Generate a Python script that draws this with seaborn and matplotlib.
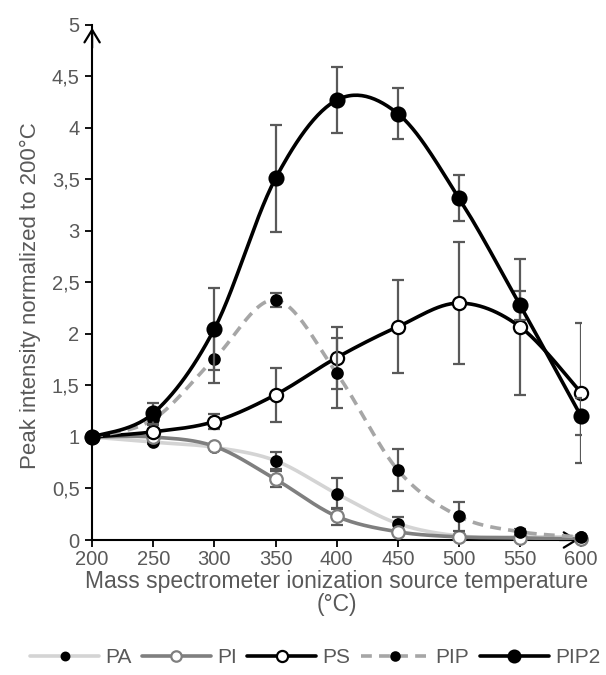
import numpy as np
import pandas as pd
import matplotlib
matplotlib.use("Agg")
import matplotlib.pyplot as plt
from matplotlib.lines import Line2D
import seaborn as sns

# values (mean and +/- error per temperature)
temps = [200, 250, 300, 350, 400, 450, 500, 550, 600]

pa = [1.00, 0.95, 0.90, 0.77, 0.45, 0.16, 0.04, 0.03, 0.03]
pa_err = [0, 0.02, 0.02, 0.08, 0.15, 0.06, 0.01, 0.01, 0.01]
pi = [1.00, 1.00, 0.91, 0.59, 0.23, 0.08, 0.03, 0.02, 0.01]
pi_err = [0, 0.02, 0.02, 0.08, 0.08, 0.02, 0.01, 0.01, 0.01]
ps = [1.00, 1.05, 1.15, 1.41, 1.77, 2.07, 2.30, 2.07, 1.43]
ps_err = [0, 0.03, 0.07, 0.26, 0.30, 0.45, 0.59, 0.66, 0.68]
pip = [1.00, 1.17, 1.76, 2.33, 1.62, 0.68, 0.23, 0.08, 0.03]
pip_err = [0, 0.05, 0.24, 0.07, 0.34, 0.20, 0.14, 0.03, 0.02]
pip2 = [1.00, 1.23, 2.05, 3.51, 4.27, 4.14, 3.32, 2.28, 1.20]
pip2_err = [0, 0.10, 0.40, 0.52, 0.32, 0.25, 0.22, 0.14, 0.18]

names = ["PA", "PI", "PS", "PIP", "PIP2"]
yticks = [0, 0.5, 1, 1.5, 2, 2.5, 3, 3.5, 4, 4.5, 5]
ytick_labels = ["0", "0,5", "1", "1,5", "2", "2,5", "3", "3,5", "4", "4,5", "5"]

series = {"PA": (pa, pa_err), "PI": (pi, pi_err), "PS": (ps, ps_err),
          "PIP": (pip, pip_err), "PIP2": (pip2, pip2_err)}

# line color, linestyle, marker face, marker edge, marker size, legend marker size
styles = {
    "PA": ("#d4d4d4", "-", "black", "black", 7.5, 5.5),
    "PI": ("#7f7f7f", "-", "white", "#7f7f7f", 9, 7.5),
    "PS": ("black", "-", "white", "black", 9.5, 8),
    "PIP": ("#a6a6a6", (0, (3, 2)), "black", "black", 7.5, 6),
    "PIP2": ("black", "-", "black", "black", 10, 8.5),
}


def smooth(x, y, n=30):
    # Excel-like smoothed line (Catmull-Rom through the points)
    x = np.asarray(x, float)
    y = np.asarray(y, float)
    px = np.concatenate([[x[0]], x, [x[-1]]])
    py = np.concatenate([[y[0]], y, [y[-1]]])
    xs, ys = [], []
    t = np.linspace(0, 1, n)
    for i in range(1, len(px) - 2):
        for arr, out in ((px, xs), (py, ys)):
            p0, p1, p2, p3 = arr[i - 1], arr[i], arr[i + 1], arr[i + 2]
            c1 = p1 + (p2 - p0) / 6
            c2 = p2 - (p3 - p1) / 6
            out.extend((1 - t) ** 3 * p1 + 3 * (1 - t) ** 2 * t * c1
                       + 3 * (1 - t) * t ** 2 * c2 + t ** 3 * p2)
    return np.array(xs), np.array(ys)


sns.set_style("white")
plt.rcParams["font.family"] = ["Liberation Sans", "DejaVu Sans"]
text_col = "#595959"

fig = plt.figure(figsize=(6.06, 6.75), dpi=100)
ax = fig.add_axes([0.152, 0.2, 0.807, 0.763])

z = 3
for name in names:
    vals, errs = series[name]
    col, ls, fc, ec, ms, lms = styles[name]
    ax.errorbar(temps, vals, yerr=errs, fmt="none", ecolor="#595959",
                elinewidth=1.6, capsize=4, capthick=1.6, zorder=z)
    sx, sy = smooth(temps, vals)
    sns.lineplot(x=sx, y=sy, ax=ax, color=col, linestyle=ls, lw=2.6,
                 sort=False, estimator=None, zorder=z + 1)
    sns.scatterplot(x=temps, y=vals, ax=ax, color=fc, edgecolor=ec, s=ms ** 2,
                    linewidth=1.6, zorder=z + 2, clip_on=False)
    z += 3

ax.set_xlim(200, 600)
ax.set_ylim(0, 5)
ax.set_xticks(temps)
ax.set_yticks(yticks)
ax.set_yticklabels(ytick_labels)
ax.tick_params(axis="both", colors="black", labelcolor=text_col, labelsize=14.5,
               length=5, width=1.3, direction="out", left=True, bottom=True)
ax.tick_params(axis="x", pad=2)
ax.tick_params(axis="y", pad=4)
for s in ["top", "right"]:
    ax.spines[s].set_visible(False)
for s in ["left", "bottom"]:
    ax.spines[s].set_color("black")
    ax.spines[s].set_linewidth(1.5)

arrow = dict(arrowstyle="->,head_length=0.9,head_width=0.55", color="black", lw=1.6)
ax.annotate("", xy=(0, 1.0), xytext=(0, 0.95), xycoords="axes fraction", arrowprops=arrow)
ax.annotate("", xy=(1.0, 0), xytext=(0.95, 0), xycoords="axes fraction", arrowprops=arrow)

ax.set_xlabel("Mass spectrometer ionization source temperature\n(°C)",
              fontsize=16.5, color=text_col, labelpad=1, linespacing=1.0)
ax.set_ylabel("Peak intensity normalized to 200°C", fontsize=16, color=text_col)
ax.yaxis.set_label_coords(-0.105, 0.474)

handles = []
for name in names:
    col, ls, fc, ec, ms, lms = styles[name]
    handles.append(Line2D([], [], color=col, linestyle=ls, lw=2.6, marker="o",
                          markerfacecolor=fc, markeredgecolor=ec,
                          markersize=lms, markeredgewidth=1.6))
fig.legend(handles, names, loc="center", bbox_to_anchor=(0.52, 0.026), ncol=5,
           frameon=False, fontsize=15, handlelength=3.3, columnspacing=0.5,
           handletextpad=0.3, labelcolor=text_col)

fig.savefig("out.png", dpi=100)
